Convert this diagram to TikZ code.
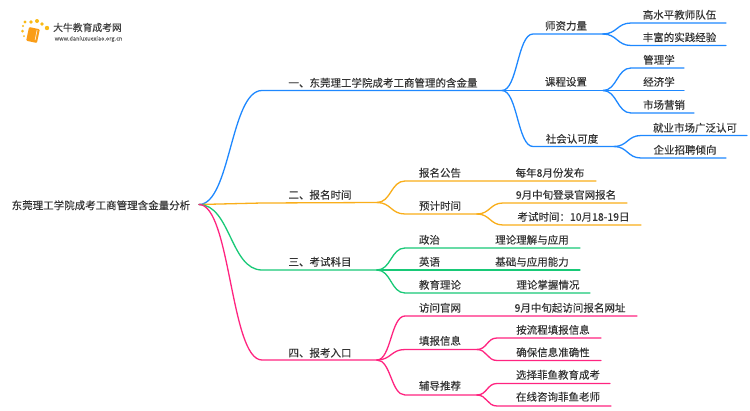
\documentclass[tikz,border=0pt]{standalone}
\usepackage{fontspec}
\setmainfont[FakeBold=0.12]{Noto Sans CJK SC}
\definecolor{cblue}{HTML}{1E88FF}
\definecolor{corange}{HTML}{F9AE1A}
\definecolor{cgreen}{HTML}{18C977}
\definecolor{cpink}{HTML}{FF2480}
\definecolor{ctext}{HTML}{333333}
\tikzset{
  lab/.style={text=ctext,font=\fontsize{10.5}{12}\selectfont,inner sep=0pt,yshift=-0.8pt},
  wire/.style={line width=1.3pt,line cap=round},
}
% \brch{colour}{from}{start of line}{end of line}
\newcommand{\brch}[4]{\draw[wire,#1] (#2) .. controls ($(#2)!0.5!(#2-|#3)$) and ($(#3)!0.5!(#3-|#2)$) .. (#3) -- (#4);}
\usetikzlibrary{calc}
\begin{document}
\begin{tikzpicture}[x=1pt,y=-1pt]
\useasboundingbox (0,0) rectangle (750,410);
\fill[white] (0,0) rectangle (750,410);
% logo
\foreach \a/\b/\r in {23/26/1.2,22.5/31/1.5,24/36/1,25/22/1.6,31/22/1.9,37/21/2,42/24/1.9,47/28/2.2}
  \fill[corange!85!yellow] (\a,\b) circle (\r);
\node[rounded corners=1pt,fill=corange!90!red,minimum width=11pt,minimum height=14pt,rotate=-12,inner sep=0pt] (book) at (33,35) {};
\draw[white,line width=.5pt] (book.north east) ++(-3,1) -- ++(-2,10);
\node[inner sep=0pt,text=black!75,font=\fontsize{9.8}{10}\selectfont] (lt) at (87.5,27.5) {大牛教育成考网};
\node[inner sep=0pt,text=black!60,font=\fontsize{5.6}{6}\selectfont] (lu) at (88.5,39) {www.daniuxuexiao.org.cn};
% root
\node[lab,anchor=west] (root) at (11.5,204.5) {东莞理工学院成考工商管理含金量分析};
\coordinate (r) at (199,204.5);
% level 1
\node[lab] (t1) at (383,82) {一、东莞理工学院成考工商管理的含金量};
\node[lab] (t2) at (320,194) {二、报名时间};
\node[lab] (t3) at (320,261) {三、考试科目};
\node[lab] (t4) at (320,352) {四、报考入口};
\coordinate (a1) at (262,90.5);  \coordinate (j1) at (502,90.5);
\coordinate (a2) at (262,203);   \coordinate (j2) at (377,202.5);
\coordinate (a3) at (262,270);   \coordinate (j3) at (377,270);
\coordinate (a4) at (262,360);   \coordinate (j4) at (377,360);
\brch{cblue}{r}{a1}{j1}
\brch{corange}{r}{a2}{j2}
\brch{cgreen}{r}{a3}{j3}
\brch{cpink}{r}{a4}{j4}
% blue level 2
\node[lab] (b1) at (566,25) {师资力量};
\node[lab] (b2) at (566,81) {课程设置};
\node[lab] (b3) at (572,138) {社会认可度};
\coordinate (b1s) at (533,34);    \coordinate (b1e) at (603,34);
\coordinate (b2s) at (533,90.5);  \coordinate (b2e) at (603,90.5);
\coordinate (b3s) at (533,146.5); \coordinate (b3e) at (614,146.5);
\brch{cblue}{j1}{b1s}{b1e}
\brch{cblue}{j1}{b2s}{b2e}
\brch{cblue}{j1}{b3s}{b3e}
% blue level 3
\node[lab] (c1) at (679.5,14) {高水平教师队伍};
\node[lab] (c2) at (679.5,36.5) {丰富的实践经验};
\node[lab] (c3) at (659,59) {管理学};
\node[lab] (c4) at (659,81) {经济学};
\node[lab] (c5) at (664,104) {市场营销};
\node[lab] (c6) at (695,127) {就业市场广泛认可};
\node[lab] (c7) at (685,149) {企业招聘倾向};
\coordinate (c1s) at (631,23);    \coordinate (c1e) at (726,23);
\coordinate (c2s) at (631,45.5);  \coordinate (c2e) at (726,45.5);
\coordinate (c3s) at (631,68);    \coordinate (c3e) at (684,68);
\coordinate (c4s) at (631,90.5);  \coordinate (c4e) at (684,90.5);
\coordinate (c5s) at (631,113);   \coordinate (c5e) at (694,113);
\coordinate (c6s) at (641,135.5); \coordinate (c6e) at (747,135.5);
\coordinate (c7s) at (641,158);   \coordinate (c7e) at (726,158);
\brch{cblue}{b1e}{c1s}{c1e}
\brch{cblue}{b1e}{c2s}{c2e}
\brch{cblue}{b2e}{c3s}{c3e}
\brch{cblue}{b2e}{c4s}{c4e}
\brch{cblue}{b2e}{c5s}{c5e}
\brch{cblue}{b3e}{c6s}{c6e}
\brch{cblue}{b3e}{c7s}{c7e}
% orange
\node[lab] (o1) at (440,172) {报名公告};
\node[lab] (o2) at (440,205) {预计时间};
\node[lab] (o3) at (550,172) {每年8月份发布};
\node[lab] (o4) at (566,194) {9月中旬登录官网报名};
\node[lab] (o5) at (573.5,216) {考试时间：10月18-19日};
\coordinate (o1s) at (405,181);  \coordinate (o1e) at (596,181);
\coordinate (o2s) at (405,214);  \coordinate (o2e) at (477,214);
\coordinate (o4s) at (503,203);  \coordinate (o4e) at (627,203);
\coordinate (o5s) at (503,225);  \coordinate (o5e) at (641,225);
\brch{corange}{j2}{o1s}{o1e}
\brch{corange}{j2}{o2s}{o2e}
\brch{corange}{o2e}{o4s}{o4e}
\brch{corange}{o2e}{o5s}{o5e}
% green
\node[lab] (g1) at (429.5,239) {政治};
\node[lab] (g2) at (429.5,261) {英语};
\node[lab] (g3) at (440,284) {教育理论};
\node[lab] (g4) at (532,239) {理论理解与应用};
\node[lab] (g5) at (532,261) {基础与应用能力};
\node[lab] (g6) at (548,284) {理论掌握情况};
\coordinate (g1s) at (405,248);  \coordinate (g1e) at (580,248);
\coordinate (g2s) at (405,270);  \coordinate (g2e) at (580,270);
\coordinate (g3s) at (405,293);  \coordinate (g3e) at (590,293);
\brch{cgreen}{j3}{g1s}{g1e}
\brch{cgreen}{j3}{g2s}{g2e}
\brch{cgreen}{j3}{g3s}{g3e}
% pink
\node[lab] (p1) at (440,307) {访问官网};
\node[lab] (p2) at (440,340) {填报信息};
\node[lab] (p3) at (440,385) {辅导推荐};
\node[lab] (p4) at (570,307) {9月中旬起访问报名网址};
\node[lab] (p5) at (553,329) {按流程填报信息};
\node[lab] (p6) at (553,351.5) {确保信息准确性};
\node[lab] (p7) at (558,374) {选择菲鱼教育成考};
\node[lab] (p8) at (558,396) {在线咨询菲鱼老师};
\coordinate (p1s) at (405,316);    \coordinate (p1e) at (637,316);
\coordinate (p2s) at (405,349.5);  \coordinate (p2e) at (477,349.5);
\coordinate (p3s) at (405,395);    \coordinate (p3e) at (477,395);
\coordinate (p5s) at (497,338);    \coordinate (p5e) at (601,338);
\coordinate (p6s) at (497,360.5);  \coordinate (p6e) at (601,360.5);
\coordinate (p7s) at (497,383.5);  \coordinate (p7e) at (610,383.5);
\coordinate (p8s) at (497,406);    \coordinate (p8e) at (611,406);
\brch{cpink}{j4}{p1s}{p1e}
\brch{cpink}{j4}{p2s}{p2e}
\brch{cpink}{j4}{p3s}{p3e}
\brch{cpink}{p2e}{p5s}{p5e}
\brch{cpink}{p2e}{p6s}{p6e}
\brch{cpink}{p3e}{p7s}{p7e}
\brch{cpink}{p3e}{p8s}{p8e}
\end{tikzpicture}
\end{document}
